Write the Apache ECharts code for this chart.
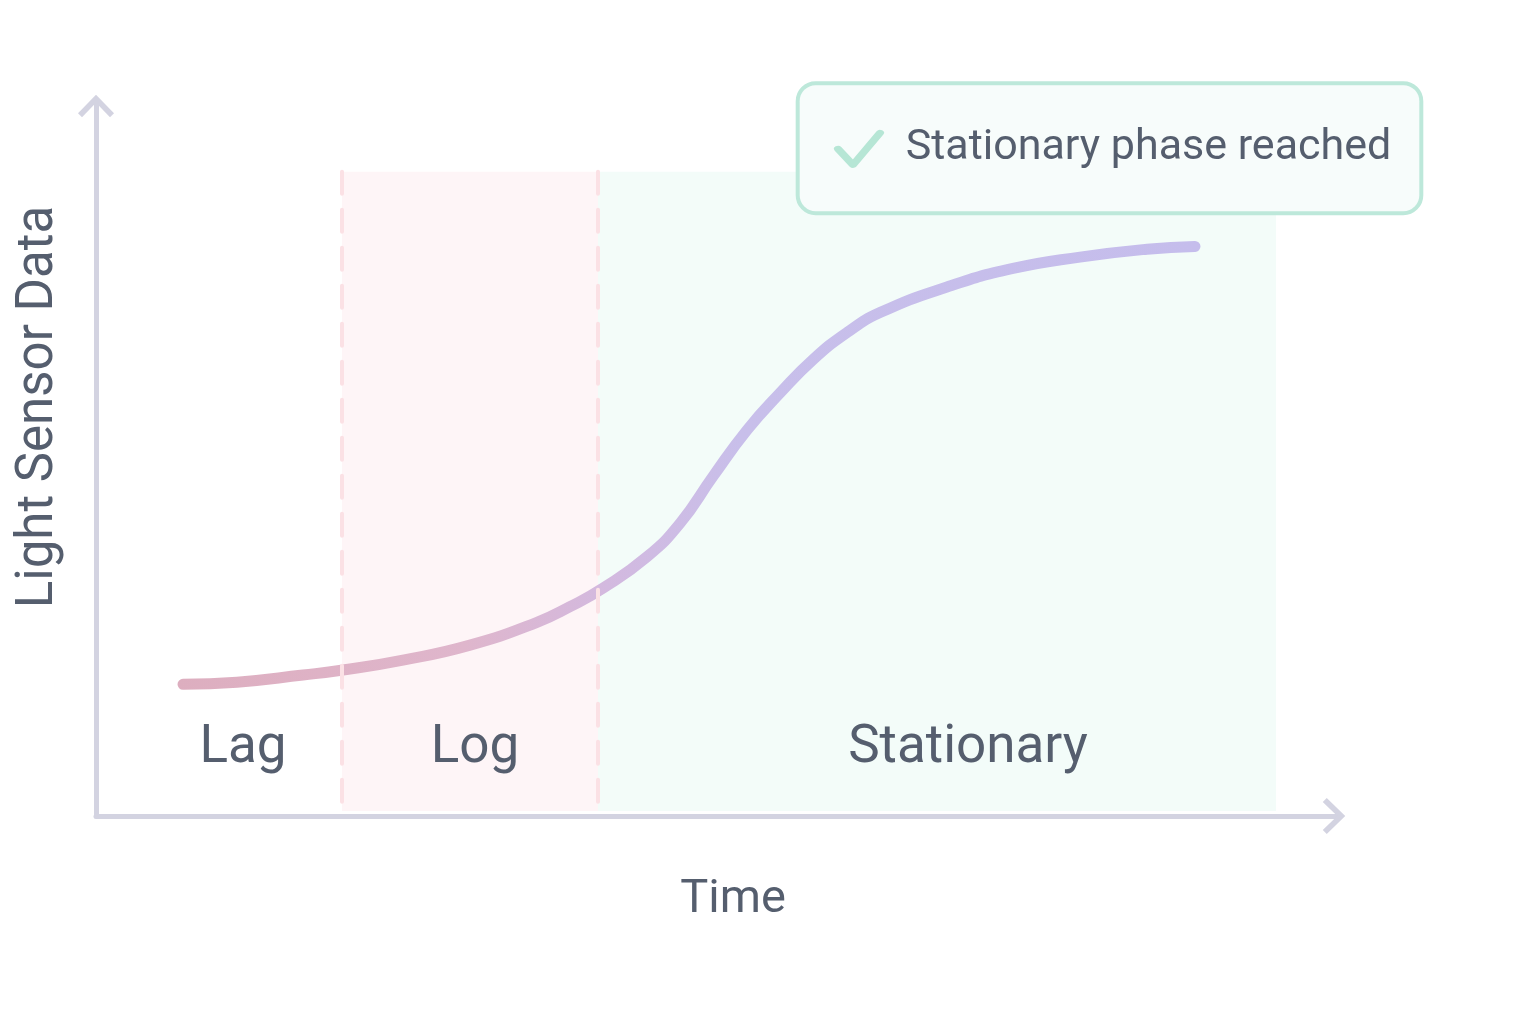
<!DOCTYPE html>
<html>
<head>
<meta charset="utf-8">
<script src="https://cdn.jsdelivr.net/npm/echarts@6/dist/echarts.min.js"></script>
<style>
  html, body { margin: 0; padding: 0; background: #ffffff; }
  #chart { width: 1536px; height: 1024px; }
</style>
</head>
<body>
<div id="chart"></div>
<script>
// ---- data ----
const timeH = [1.74, 2.82, 4.14, 4.94, 6.14, 7.48, 8.82, 9.48, 10.14, 11.02, 11.68, 12.34, 13.02, 13.68, 14.34, 15.02, 15.68, 17.02, 18.34, 19.68, 21.02, 21.98];
const sensor = [18.5, 18.8, 19.8, 20.5, 21.9, 24.0, 27.2, 29.4, 32.0, 36.4, 41.1, 47.7, 54.2, 59.4, 64.1, 67.9, 70.7, 74.3, 76.9, 78.5, 79.6, 80.0];
const phaseNames = ['Lag', 'Log', 'Stationary'];
const phaseLabelTime = [2.94, 7.58, 17.44];
const phaseLabelLevel = 9.4;
const logStart = 4.92, statStart = 10.04, statEnd = 23.6;
const bandTop = 90.5, bandBottom = 0.7;
const calloutText = 'Stationary phase reached';
const calloutAt = [20.27, 93.8];
const checkAt = [15.26, 93.7];
const xName = 'Time';
const yName = 'Light Sensor Data';

const textColor = '#555e6e';
const axisColor = '#d3d3e1';
const font = 'Roboto';
const chevron = 'path://M18,0 L36,18.5 L32,22.5 L18,8 L4,22.5 L0,18.5 Z';

const chart = echarts.init(document.getElementById('chart'), null, { renderer: 'canvas' });

const axisLineCommon = {
  show: true,
  symbol: ['none', chevron],
  symbolSize: [36, 24],
  symbolOffset: [0, -2],
  lineStyle: { color: axisColor, width: 5, cap: 'round' }
};

chart.setOption({
  animation: false,
  backgroundColor: '#ffffff',
  grid: { left: 96, right: 200, top: 104, bottom: 208, containLabel: false, outerBoundsMode: 'none' },
  xAxis: {
    type: 'value', min: 0, max: 24.8,
    axisLine: axisLineCommon,
    axisTick: { show: false }, axisLabel: { show: false }, splitLine: { show: false },
    name: xName, nameLocation: 'middle', nameGap: 61,
    nameTextStyle: { color: textColor, fontSize: 47, fontFamily: font, padding: [0, 0, 0, 34] }
  },
  yAxis: {
    type: 'value', min: 0, max: 100,
    axisLine: axisLineCommon,
    axisTick: { show: false }, axisLabel: { show: false }, splitLine: { show: false },
    name: yName, nameLocation: 'middle', nameGap: 31,
    nameTextStyle: { color: textColor, fontSize: 51, fontFamily: font, padding: [0, 0, 0, 106] }
  },
  series: [
    {
      name: 'phases', type: 'line', data: [], z: 1, silent: true,
      markArea: {
        silent: true,
        data: [
          [{ xAxis: logStart, yAxis: bandBottom, itemStyle: { color: '#fef5f7' } }, { xAxis: statStart, yAxis: bandTop }],
          [{ xAxis: statStart, yAxis: bandBottom, itemStyle: { color: '#f3fcf9' } }, { xAxis: statEnd, yAxis: bandTop }]
        ]
      },
      markLine: {
        silent: true, symbol: ['none', 'none'], label: { show: false },
        lineStyle: { color: '#fbe1e5', width: 4, type: [22, 16], cap: 'round' },
        data: [
          [{ coord: [logStart, bandTop] }, { coord: [logStart, bandBottom] }],
          [{ coord: [statStart, bandTop] }, { coord: [statStart, bandBottom] }]
        ]
      }
    },
    {
      name: 'Light Sensor Data', type: 'line', z: 3,
      data: timeH.map((t, i) => [t, sensor[i]]),
      smooth: 0.5, showSymbol: false, silent: true,
      lineStyle: {
        width: 11, cap: 'round', join: 'round',
        color: new echarts.graphic.LinearGradient(0, 0, 1, 0, [
          { offset: 0, color: '#ddaebf' },
          { offset: 0.28, color: '#dfb6cc' },
          { offset: 0.42, color: '#d3b9df' },
          { offset: 0.55, color: '#c8bfea' },
          { offset: 1, color: '#c5bdec' }
        ])
      },
      markPoint: {
        silent: true, symbol: 'rect', symbolSize: 0,
        data: [{
          coord: calloutAt,
          label: {
            show: true, position: 'inside', formatter: calloutText,
            color: textColor, fontSize: 43, fontFamily: font, lineHeight: 60,
            backgroundColor: '#f7fcfb', borderColor: '#bde8da', borderWidth: 4, borderRadius: 16,
            padding: [41, 28, 25, 106]
          }
        }]
      }
    },
    {
      name: 'phase labels', type: 'scatter', z: 4, silent: true,
      symbolSize: 0,
      itemStyle: { opacity: 1 },
      data: phaseNames.map((n, i) => ({ value: [phaseLabelTime[i], phaseLabelLevel], name: n })),
      label: {
        show: true, position: 'inside', formatter: p => p.name,
        color: textColor, fontSize: 53, fontFamily: font
      }
    },
    {
      name: 'check', type: 'scatter', z: 10, silent: true,
      symbol: 'path://M0,16 L15,32 L42,0',
      symbolSize: [42, 32],
      itemStyle: { opacity: 1, color: 'rgba(0,0,0,0)', borderColor: '#b6e6d5', borderWidth: 7, borderCap: 'round', borderJoin: 'round' },
      data: [checkAt]
    }
  ]
});
</script>
</body>
</html>
